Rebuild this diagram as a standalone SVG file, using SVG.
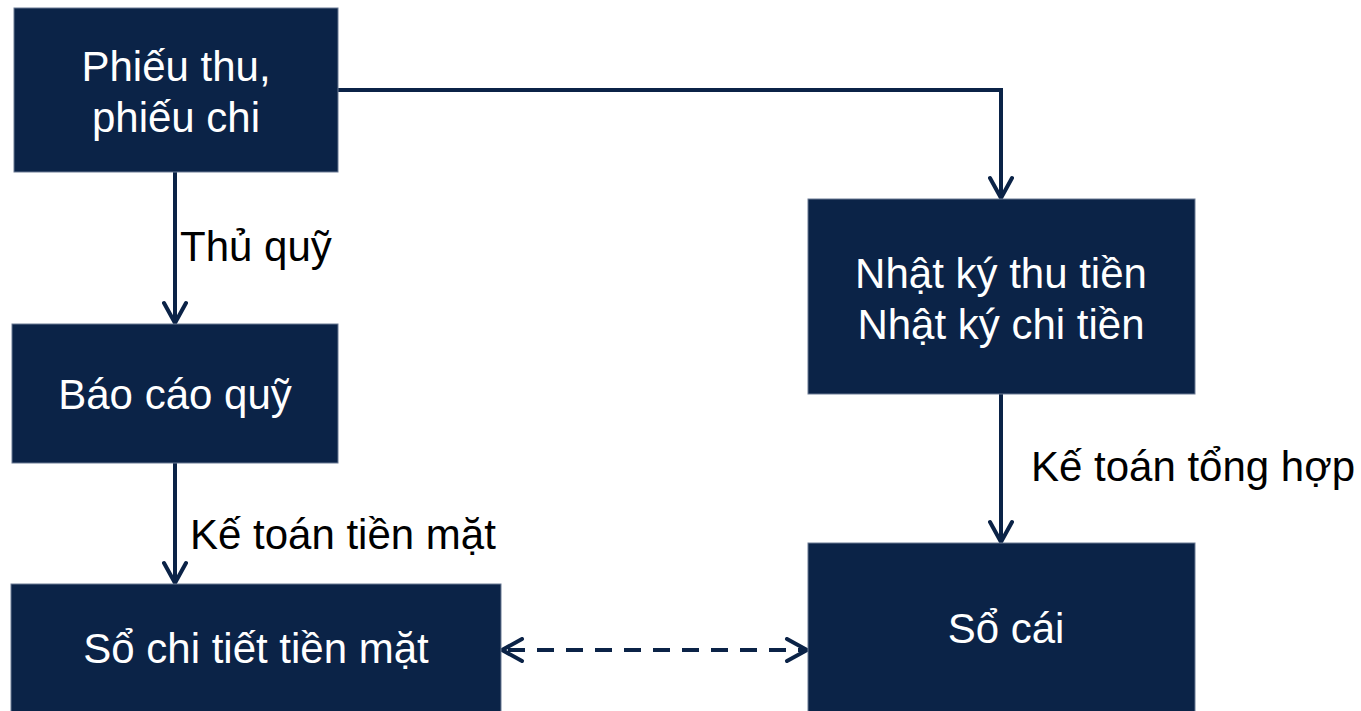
<svg xmlns="http://www.w3.org/2000/svg" width="1361" height="711" viewBox="0 0 1361 711">
  <defs>
    <style>
      .box { fill: #0b2347; stroke: #6b7a94; stroke-width: 1; }
      .nt { fill: #ffffff; font-family: "Liberation Sans", Arial, sans-serif; font-size: 42px; text-anchor: middle; }
      .lbl { fill: #000000; font-family: "Liberation Sans", Arial, sans-serif; font-size: 42px; }
      .edge { fill: none; stroke: #0b2347; stroke-width: 4; }
      .dash { stroke-dasharray: 17 12; stroke-dashoffset: -6; }
    </style>
    <marker id="arr" viewBox="0 0 26 26" refX="23" refY="13" markerWidth="26" markerHeight="26" markerUnits="userSpaceOnUse" orient="auto-start-reverse">
      <path d="M3,2 L23,13 L3,24" fill="none" stroke="#0b2347" stroke-width="4" stroke-linecap="round" stroke-linejoin="round"/>
    </marker>
  </defs>
  <rect width="1361" height="711" fill="#ffffff"/>

  <g id="connectors">
    <path class="edge" d="M175,172 V323" marker-end="url(#arr)"/>
    <path class="edge" d="M338,90 H1001 V198" marker-end="url(#arr)"/>
    <path class="edge" d="M175,463 V583" marker-end="url(#arr)"/>
    <path class="edge" d="M1001,394 V542" marker-end="url(#arr)"/>
    <path class="edge dash" d="M502,650 H807" marker-start="url(#arr)" marker-end="url(#arr)"/>
    <text class="lbl" x="180" y="261">Thủ quỹ</text>
    <text class="lbl" x="190" y="549">Kế toán tiền mặt</text>
    <text class="lbl" x="1031" y="481">Kế toán tổng hợp</text>
  </g>

  <g id="phieu">
    <rect class="box" x="14" y="8" width="324" height="164"/>
    <text class="nt" x="176" y="81">Phiếu thu,</text>
    <text class="nt" x="176" y="132">phiếu chi</text>
  </g>

  <g id="bao-cao-quy">
    <rect class="box" x="12" y="324" width="326" height="139"/>
    <text class="nt" x="175" y="409">Báo cáo quỹ</text>
  </g>

  <g id="so-chi-tiet">
    <rect class="box" x="11" y="584" width="490" height="130"/>
    <text class="nt" x="256" y="663">Sổ chi tiết tiền mặt</text>
  </g>

  <g id="nhat-ky">
    <rect class="box" x="808" y="199" width="387" height="195"/>
    <text class="nt" x="1001" y="288">Nhật ký thu tiền</text>
    <text class="nt" x="1001" y="339">Nhật ký chi tiền</text>
  </g>

  <g id="so-cai">
    <rect class="box" x="808" y="543" width="387" height="171"/>
    <text class="nt" x="1006" y="643">Sổ cái</text>
  </g>
</svg>
